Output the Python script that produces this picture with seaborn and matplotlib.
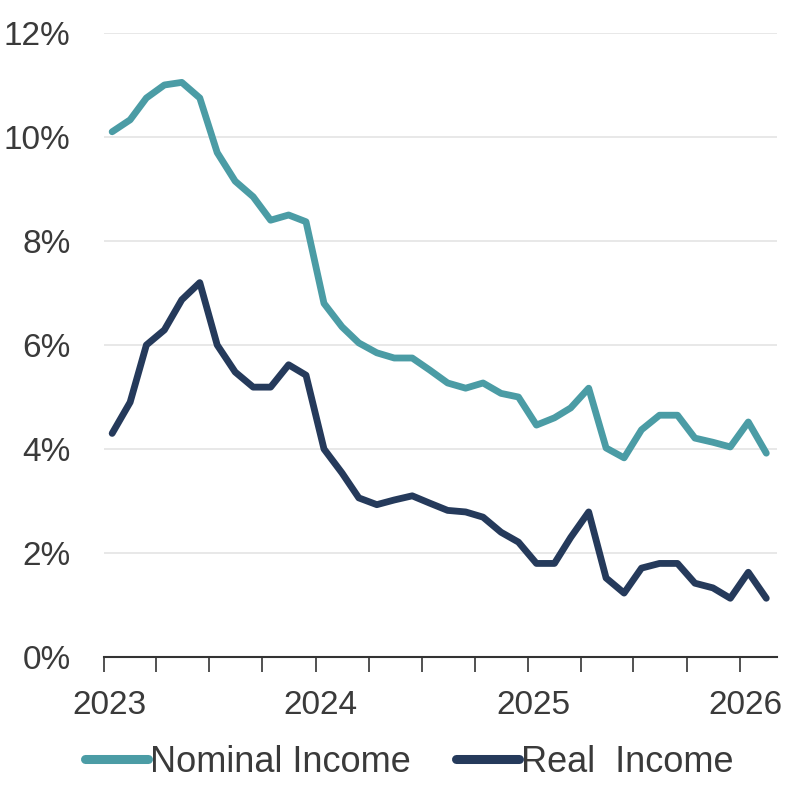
import matplotlib
matplotlib.use("Agg")
import matplotlib.pyplot as plt
import matplotlib.dates as mdates
import matplotlib.transforms as mtransforms
from matplotlib.lines import Line2D
import seaborn as sns
import pandas as pd

# ---- data (monthly, Jan 2023 - Feb 2026) ----
months = pd.date_range("2023-01-01", periods=38, freq="MS") + pd.Timedelta(days=14)
nominal_income = [10.10, 10.33, 10.75, 11.00, 11.05, 10.75, 9.70, 9.15, 8.85, 8.40,
                  8.50, 8.37, 6.80, 6.35, 6.04, 5.85, 5.75, 5.75, 5.52, 5.27,
                  5.17, 5.27, 5.07, 5.00, 4.46, 4.60, 4.79, 5.17, 4.02, 3.83,
                  4.37, 4.65, 4.65, 4.21, 4.13, 4.04, 4.52, 3.92]
real_income = [4.30, 4.90, 6.00, 6.29, 6.87, 7.20, 6.00, 5.48, 5.19, 5.19,
               5.62, 5.42, 4.00, 3.54, 3.06, 2.93, 3.02, 3.10, 2.96, 2.82,
               2.79, 2.69, 2.40, 2.21, 1.80, 1.80, 2.30, 2.79, 1.52, 1.23,
               1.71, 1.80, 1.80, 1.42, 1.33, 1.13, 1.63, 1.13]
series_names = ["Nominal Income", "Real  Income"]
y_ticks = [0, 2, 4, 6, 8, 10, 12]

df = pd.DataFrame({
    "date": list(months) * 2,
    "value": nominal_income + real_income,
    "series": [series_names[0]] * len(months) + [series_names[1]] * len(months),
})

sns.set_style("white")
plt.rcParams["font.family"] = ["Liberation Sans Narrow", "Liberation Sans", "DejaVu Sans"]

colors = {series_names[0]: "#4B9CA5", series_names[1]: "#253A5B"}
text_color = "#3a3a3a"

fig = plt.figure(figsize=(7.94, 7.85), dpi=100)
ax = fig.add_axes([0.131, 0.163, 0.848, 0.795])

sns.lineplot(data=df, x="date", y="value", hue="series", palette=colors,
             linewidth=4.9, ax=ax, legend=False)
for ln in ax.get_lines():
    ln.set_solid_joinstyle("round")
    ln.set_solid_capstyle("round")

ax.set_ylim(0, 12)
ax.set_yticks(y_ticks)
ax.set_yticklabels([f"{v}%" for v in y_ticks])
ax.set_xlim(pd.Timestamp("2023-01-01"), pd.Timestamp("2026-03-06"))

ax.xaxis.set_major_locator(mdates.YearLocator())
ax.xaxis.set_major_formatter(mdates.DateFormatter("%Y"))
ax.xaxis.set_minor_locator(mdates.MonthLocator(bymonth=[4, 7, 10]))
ax.tick_params(axis="x", which="both", direction="out", length=11, width=1.2,
               color="#333333", labelsize=24, labelcolor=text_color, pad=13, bottom=True)
ax.tick_params(axis="y", length=0, labelsize=24, labelcolor=text_color, pad=24)

shift = mtransforms.ScaledTranslation(5 / 100, 0, fig.dpi_scale_trans)
for lab in ax.get_xticklabels():
    lab.set_transform(lab.get_transform() + shift)

ax.set_xlabel("")
ax.set_ylabel("")
ax.grid(axis="y", color="#e6e6e6", linewidth=1.3)
ax.grid(axis="x", visible=False)
for s in ["top", "right", "left"]:
    ax.spines[s].set_visible(False)
ax.spines["bottom"].set_color("#333333")
ax.spines["bottom"].set_linewidth(1.5)
ax.set_axisbelow(True)

handles = [Line2D([0], [0], color=colors[n], linewidth=6.5, solid_capstyle="round") for n in series_names]
fig.legend(handles, series_names, loc="center", bbox_to_anchor=(0.515, 0.029), ncol=2,
           frameon=False, fontsize=26, handlelength=1.75, handletextpad=0.05,
           columnspacing=1.25, labelcolor=text_color)

fig.savefig("out.png", dpi=100, facecolor="white")
